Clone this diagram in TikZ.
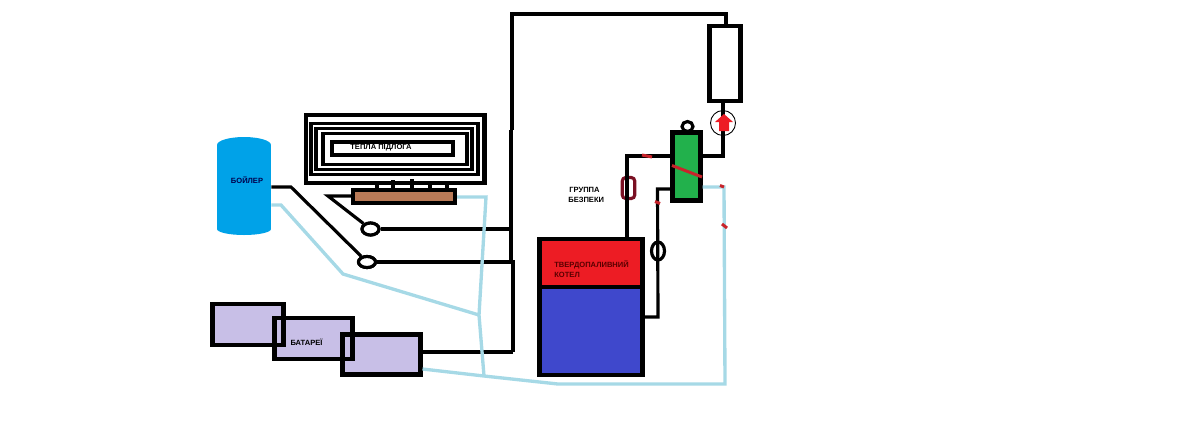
\documentclass[tikz,border=0pt]{standalone}
\usepackage{fontspec}
\setmainfont{Liberation Sans}
\usetikzlibrary{shapes.geometric}
\definecolor{tankblue}{HTML}{00A2E8}
\definecolor{stovered}{HTML}{ED1C24}
\definecolor{stoveblue}{HTML}{3F48CC}
\definecolor{valvegreen}{HTML}{22B14C}
\definecolor{manifoldbrown}{HTML}{B97A57}
\definecolor{batterylilac}{HTML}{C8BFE7}
\definecolor{returnblue}{HTML}{A6D9E6}
\definecolor{fusered}{HTML}{7A1023}
\definecolor{markred}{HTML}{C8242B}
\tikzset{
  pipe/.style={line width=1.8pt},
  thickpipe/.style={line width=2.5pt},
  returnpipe/.style={line width=1.9pt, returnblue},
  redmark/.style={line width=1.7pt, markred},
  box/.style={draw, line width=2.3pt, inner sep=0pt},
  coil/.style={draw, line width=1.75pt, inner sep=0pt},
  ring/.style={draw, ellipse, fill=white, line width=1.8pt, inner sep=0pt},
  caption/.style={inner sep=0pt, font=\bfseries\fontsize{4.3}{5}\selectfont}
}
\begin{document}
\begin{tikzpicture}[x=0.02cm,y=-0.02cm]
        \useasboundingbox (0,0) rectangle (1199,424);

        % floor coil
        \node[coil, line width=2.3pt, minimum width=3.58cm, minimum height=1.35cm] (coil1) at (395,149) {};
        \node[coil, minimum width=3.34cm, minimum height=1.03cm] (coil2) at (394.5,149) {};
        \node[coil, minimum width=3.12cm, minimum height=0.81cm] (coil3) at (394,149) {};
        \node[coil, minimum width=2.88cm, minimum height=0.61cm] (coil4) at (395,149) {};
        \node[coil, line width=2.3pt, minimum width=2.42cm, minimum height=0.27cm] (coil5) at (392.5,148.5) {};
        \node[caption] (floorlabel) at (381,148) {ТЕПЛА ПІДЛОГА};
        \node[box, fill=manifoldbrown, minimum width=2.04cm, minimum height=0.26cm] (manifold) at (404,196.5) {};

        % tank
        \node[ellipse, fill=tankblue, inner sep=0pt, minimum width=1.08cm, minimum height=0.32cm] (tanktop) at (244,145) {};
        \node[ellipse, fill=tankblue, inner sep=0pt, minimum width=1.08cm, minimum height=0.24cm] (tankbottom) at (244,229) {};
        \node[fill=tankblue, inner sep=0pt, minimum width=1.08cm, minimum height=1.68cm] (tank) at (244,187) {};
        \node[caption, text=black!70!blue] (tanklabel) at (247,180) {БОЙЛЕР};

        % batteries
        \node[box, outer sep=0pt, fill=batterylilac, minimum width=1.42cm, minimum height=0.82cm] (bat1) at (248,324.5) {};
        \node[box, outer sep=0pt, fill=batterylilac, minimum width=1.56cm, minimum height=0.82cm] (bat2) at (313.5,338.5) {};
        \node[box, fill=batterylilac, minimum width=1.56cm, minimum height=0.80cm] (bat3) at (381.5,354.5) {};
        \draw[line width=2.3pt] (bat1.south west) rectangle (bat1.north east);
        \draw[line width=2.3pt] (bat2.south west) rectangle (bat2.north east);
        \node[caption] (batlabel) at (306.5,342) {БАТАРЕЇ};

        % stove
        \node[box, fill=stovered, minimum width=2.06cm, minimum height=1.0cm] (stovetop) at (591,264) {};
        \node[box, fill=stoveblue, minimum width=2.06cm, minimum height=1.76cm] (stovebottom) at (591,331) {};
        \node[caption, text=black!65!red, anchor=west] (stovelabel1) at (554,265) {ТВЕРДОПАЛИВНИЙ};
        \node[caption, text=black!65!red, anchor=west] (stovelabel2) at (554,275) {КОТЕЛ};

        % radiator, pump and mixing valve
        \node[box, fill=white, minimum width=0.62cm, minimum height=1.5cm] (radiator) at (725,63.5) {};
        \node[circle, draw, line width=0.5pt, minimum size=0.5cm, inner sep=0pt] (pump) at (723,123) {};
        \node[ring, minimum width=0.22cm, minimum height=0.2cm] (valvecap) at (687.5,126.5) {};
        \node[box, fill=valvegreen, minimum width=0.56cm, minimum height=1.36cm] (valve) at (686.5,166.5) {};
        \node[rounded corners=2pt, draw=fusered, fill=white, line width=1.8pt, inner sep=0pt, minimum width=0.25cm, minimum height=0.42cm] (fuse) at (628.5,188) {};
        \node[ring, minimum width=0.26cm, minimum height=0.36cm] (ring3) at (658,251) {};
        \node[caption, anchor=west] (safety1) at (569,190) {ГРУППА};
        \node[caption, anchor=west] (safety2) at (568,200) {БЕЗПЕКИ};

        % rings under the floor coil
        \node[ring, minimum width=0.34cm, minimum height=0.24cm] (ring1) at (370.5,229) {};
        \node[ring, minimum width=0.34cm, minimum height=0.22cm] (ring2) at (367,262) {};

        % junctions
        \coordinate (topleft) at (512,14);
        \coordinate (topright) at (726,14);
        \coordinate (riser0) at (512,130);
        \coordinate (riser1) at (511,229);
        \coordinate (riser2) at (513,262);
        \coordinate (riser3) at (513,352);
        \coordinate (tankbend) at (291,187);
        \coordinate (manifoldbend) at (328,196);
        \coordinate (valveright) at (723,156);
        \coordinate (valveleft) at (627,156);
        \coordinate (valvelow) at (657.5,189);
        \coordinate (stoveside) at (658,317);
        \coordinate (tee1) at (479,315);
        \coordinate (tee2) at (484,376);
        \coordinate (floorbend) at (486,197);
        \coordinate (tankbend2) at (281,205);
        \coordinate (tankbend3) at (343,274);
        \coordinate (bottombend) at (558,384);
        \coordinate (corner1) at (725,384);
        \coordinate (corner2) at (724,187);

        % hot pipes
        \draw[thickpipe] (riser0) -- (topleft) -- (topright) -- (radiator.north -| topright);
        \draw[pipe] (riser3) -- (riser2) -- (riser2 -| riser1) -- (riser1) -- (riser1 |- riser0);
        \draw[pipe] (bat3.east |- riser3) -- (riser3);
        \draw[pipe] (ring1) -- (riser1);
        \draw[pipe] (ring2) -- (riser2);
        \draw[pipe] (tank.east |- tankbend) -- (tankbend) -- (ring2);
        \draw[pipe] (manifold.west |- manifoldbend) -- (manifoldbend) -- (ring1);
        \node[ring, minimum width=0.34cm, minimum height=0.24cm] at (ring1) {};
        \node[ring, minimum width=0.34cm, minimum height=0.22cm] at (ring2) {};
        \draw[thickpipe] (radiator.south -| valveright) -- (valveright) -- (valve.east |- valveright);
        \draw[pipe] (valve.west |- valveleft) -- (valveleft) -- (stovetop.north -| valveleft);
        \draw[pipe] (valve.west |- valvelow) -- (valvelow) -- (stoveside) -- (stovebottom.east |- stoveside);

        % stubs between manifold and floor coil
        \foreach \stubx/\stubtop in {377/184,393/180,412/179,430/184,447/184}
            \draw[pipe] (manifold.north -| {(\stubx,0)}) -- (\stubx,\stubtop);

        % return pipes
        \draw[returnpipe] (tank.east |- tankbend2) -- (tankbend2) -- (tankbend3) -- (tee1);
        \draw[returnpipe] (manifold.east |- floorbend) -- (floorbend) -- (tee1) -- (tee2);
        \draw[returnpipe] (bat3.east |- 0,369) -- (tee2) -- (bottombend) -- (corner1) -- (corner2) -- (valve.east |- corner2);

        % marks and pump arrow
        \draw[redmark] (642,155) -- (652,157);
        \draw[redmark] (672,165.5) -- (702,177);
        \draw[redmark] (655,201.5) -- (660,203.5);
        \draw[redmark] (720,185.5) -- (724,187);
        \draw[redmark] (722,224) -- (727,228);
        \fill[stovered] (724,114) -- (733,122) -- (729,122) -- (729,131) -- (719,131) -- (719,122) -- (715,122) -- cycle;
\end{tikzpicture}
\end{document}
